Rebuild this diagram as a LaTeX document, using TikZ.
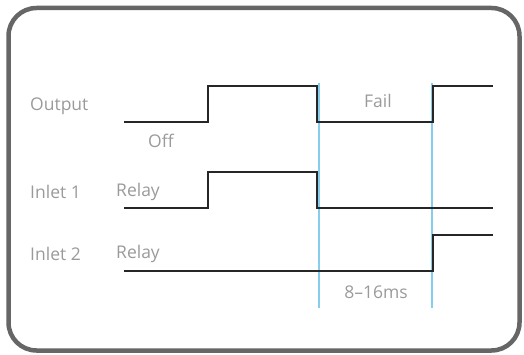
\documentclass[tikz,border=0pt]{standalone}
\usepackage{fontspec}
\setmainfont{Open Sans}
\definecolor{frame}{HTML}{666666}
\definecolor{lbl}{HTML}{9A9A9A}
\definecolor{mark}{HTML}{86CDEE}
\begin{document}
\begin{tikzpicture}[x=1pt,y=-1pt,
  lbltext/.style={text=lbl,font=\fontsize{17.5}{20}\selectfont,inner sep=0pt},
  wave/.style={line width=1.8pt,draw=black!85,line join=miter},
  marker/.style={line width=1.4pt,draw=mark}]
\useasboundingbox (0,0) rectangle (524,355);
\draw[line width=4.5pt,draw=frame,rounded corners=28pt] (8.5,8) rectangle (519.5,350.5);
% blue markers
\draw[marker] (319,83) -- (319,308);
\draw[marker] (432,83) -- (432,308);
% waveforms
\draw[wave] (124,122) -- (208,122) -- (208,86) -- (317,86) -- (317,122) -- (433,122) -- (433,86) -- (493,86);
\draw[wave] (124,208) -- (208,208) -- (208,172) -- (317,172) -- (317,208) -- (493,208);
\draw[wave] (124,271) -- (433,271) -- (433,235) -- (493,235);
% labels
\node[lbltext,anchor=west] (out) at (30,106) {Output};
\node[lbltext,anchor=west] (off) at (148,141) {Off};
\node[lbltext] (fail) at (378,101) {Fail};
\node[lbltext,anchor=west] (in1) at (30,192) {Inlet 1};
\node[lbltext,anchor=west] (r1) at (116,192) {Relay};
\node[lbltext,anchor=west] (in2) at (30,254) {Inlet 2};
\node[lbltext,anchor=west] (r2) at (116,254) {Relay};
\node[lbltext] (ms) at (376,292) {8–16ms};
\end{tikzpicture}
\end{document}
